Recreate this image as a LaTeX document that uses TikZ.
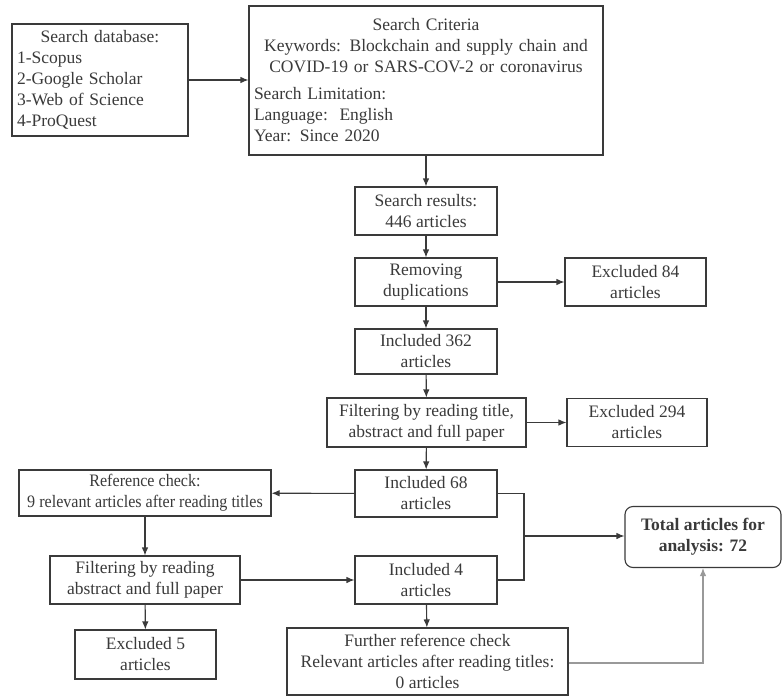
\documentclass[tikz,border=0pt]{standalone}
\usepackage{fontspec}
\setmainfont{Liberation Serif}
\newfontfamily\narrowserif[FakeStretch=0.92]{Liberation Serif}
\usetikzlibrary{arrows.meta}
\definecolor{ink}{HTML}{3A3A3A}
\tikzset{
  box/.style={draw=ink, text=ink, line width=1.1pt, inner sep=0pt, align=center,
    font=\fontsize{17.5}{21}\selectfont},
  link/.style={->, draw=ink, line width=1.1pt},
}
\begin{document}
\begin{tikzpicture}[>={Latex[length=8pt,width=6.5pt]}, x=1pt, y=-1pt]
\useasboundingbox (0,0) rectangle (782,696);

\node [box, minimum width=176pt, minimum height=112pt, text width=166pt, align=left] (db) at (100,80)
  {\hfill Search database:\hfill\mbox{}\\1-Scopus\\2-Google Scholar\\3-Web of Science\\4-ProQuest};
\node [box, minimum width=354pt, minimum height=149pt, text width=344pt, align=left] (crit) at (426,80.5)
  {\hfill Search Criteria\hfill\mbox{}\\
   \hfill Keywords: Blockchain and supply chain and\hfill\mbox{}\\
   \hfill COVID-19 or SARS-COV-2 or coronavirus\hfill\mbox{}\\[6pt]
   Search Limitation:\\Language:\ \ English\\Year: Since 2020};

\node [box, minimum width=142pt, minimum height=48pt] (res) at (426,211) {Search results:\\446 articles};
\node [box, minimum width=142pt, minimum height=48pt] (dup) at (426,282) {Removing\\duplications};
\node [box, minimum width=141pt, minimum height=48pt] (exc84) at (635.5,282) {Excluded 84\\articles};
\node [box, minimum width=142pt, minimum height=45pt] (inc362) at (426,351.5) {Included 362\\articles};
\node [box, minimum width=199pt, minimum height=49pt] (filt) at (426.5,422.5) {Filtering by reading title,\\abstract and full paper};
\node [box, minimum width=140pt, minimum height=48pt] (exc294) at (637,422.5) {Excluded 294\\articles};
\node [box, minimum width=142pt, minimum height=47pt] (inc68) at (426,493.5) {Included 68\\articles};
\node [box, minimum width=252pt, minimum height=46pt, font=\fontsize{17.5}{21}\narrowserif] (ref) at (145,493)
  {Reference check:\\9 relevant articles after reading titles};
\node [box, minimum width=190pt, minimum height=48pt] (filt2) at (145,580) {Filtering by reading\\abstract and full paper};
\node [box, minimum width=142pt, minimum height=48pt] (inc4) at (426,580) {Included 4\\articles};
\node [box, minimum width=141pt, minimum height=49pt] (exc5) at (145.5,654.5) {Excluded 5\\articles};
\node [box, minimum width=281pt, minimum height=67pt] (further) at (427.5,661.5)
  {Further reference check\\Relevant articles after reading titles:\\0 articles};
\node [box, rounded corners=8pt, minimum width=156pt, minimum height=61pt, font=\fontsize{17.5}{21}\selectfont\bfseries] (total) at (703,537)
  {Total articles for\\analysis: 72};

\draw [link] (db.east |- 0,80) -- (crit.west |- 0,80);
\draw [link] (crit) -- (res);
\draw [link] (res) -- (dup);
\draw [link] (dup) -- (exc84);
\draw [link] (dup) -- (inc362);
\draw [link] (inc362) -- (filt);
\draw [link] (filt) -- (exc294);
\draw [link] (filt) -- (inc68);
\draw [link] (inc68) -- (ref);
\draw [link] (ref) -- (filt2);
\draw [link] (filt2) -- (inc4);
\draw [link] (filt2) -- (exc5);
\draw [link] (inc4) -- (further);

% the two included boxes join and go on to the total
\coordinate (join) at (524,536);
\draw [draw=ink, line width=1.1pt] (inc68.east) -| (join) |- (inc4.east);
\draw [link] (join) -- (join -| total.west);
\draw [link, draw=gray!80] (further.east |- 0,663) -| (total.south);
\end{tikzpicture}
\end{document}
